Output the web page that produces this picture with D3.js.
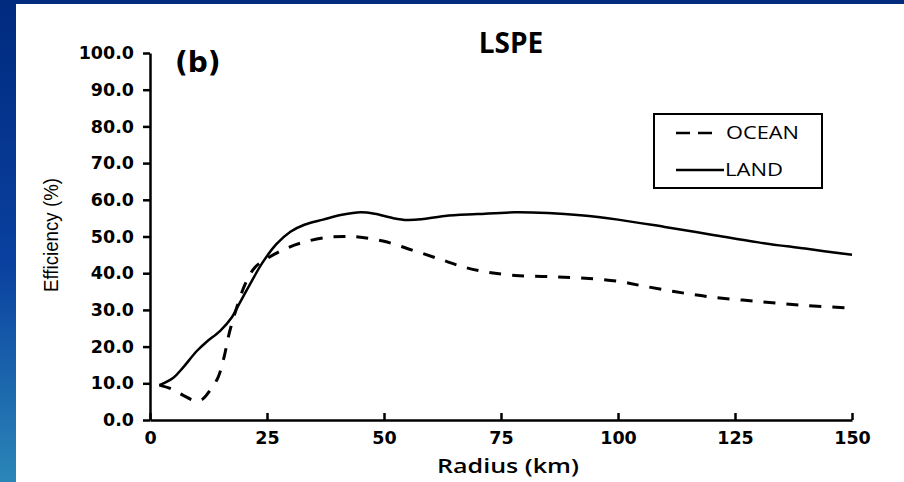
<!DOCTYPE html>
<html>
<head>
<meta charset="utf-8">
<script src="https://cdn.jsdelivr.net/npm/d3@7"></script>
<style>
	body { margin: 0; overflow: hidden; }
	svg { display: block; }
</style>
</head>
<body>
<svg id="chart" width="904" height="482"></svg>
<script>
// values
let landRadius = [2, 5, 7, 10, 12, 15, 17.5, 19, 21.5, 24, 27, 30, 33, 37, 41, 45, 48, 52, 55, 58, 63, 70, 78, 85, 92, 100, 110, 120, 130, 140, 150];
let landEff = [9.5, 11.5, 14.2, 18.8, 21.2, 24.3, 28, 31.5, 37.3, 42.8, 47.9, 51.3, 53.2, 54.6, 55.9, 56.6, 56.2, 55, 54.5, 54.7, 55.6, 56.1, 56.6, 56.4, 55.8, 54.6, 52.6, 50.5, 48.4, 46.7, 45];

let oceanRadius = [2, 4.5, 7, 9.5, 11, 12.5, 14.5, 15.8, 17, 18.5, 20.5, 22.5, 25, 29, 33, 38, 42, 45, 50, 56, 62, 67, 72, 78, 85, 92, 100, 105, 112, 120, 130, 140, 150];
let oceanEff = [9.5, 8.5, 6.8, 5.3, 5.5, 7.5, 11.5, 17, 24, 30.5, 37.5, 41.7, 44, 46.7, 48.5, 49.8, 50, 49.8, 48.7, 46.3, 43.8, 41.7, 40.3, 39.4, 39.1, 38.7, 37.8, 36.6, 35, 33.5, 32.3, 31.2, 30.5];

let xTicks = [0, 25, 50, 75, 100, 125, 150];
let yTicks = [0, 10, 20, 30, 40, 50, 60, 70, 80, 90, 100];

let svg = d3.select('#chart');

// slide background
let grad = svg.append('defs').append('linearGradient')
	.attr('id', 'bg')
	.attr('x1', 0).attr('y1', 0).attr('x2', 0).attr('y2', 1);
grad.append('stop').attr('offset', 0).attr('stop-color', '#002a7e');
grad.append('stop').attr('offset', 0.55).attr('stop-color', '#0a41a0');
grad.append('stop').attr('offset', 1).attr('stop-color', '#2b86b8');

svg.append('rect').attr('width', 904).attr('height', 482).attr('fill', 'url(#bg)');
svg.append('rect').attr('x', 16).attr('y', 4).attr('width', 888).attr('height', 478).attr('fill', '#fff');

let x = d3.scaleLinear().domain([0, 150]).range([150, 852]);
let y = d3.scaleLinear().domain([0, 100]).range([420, 53]);

let tickFont = 'DejaVu Sans, Verdana, sans-serif';

let yAxis = svg.append('g')
	.attr('transform', 'translate(' + x(0) + ',0)')
	.call(d3.axisLeft(y).tickValues(yTicks).tickSize(7).tickSizeOuter(0).tickPadding(9).tickFormat(d3.format('.1f')));

let xAxis = svg.append('g')
	.attr('transform', 'translate(0,' + y(0) + ')')
	.call(d3.axisBottom(x).tickValues(xTicks).tickSize(-7).tickSizeOuter(0).tickPadding(15).tickFormat(d3.format('d')));

[yAxis, xAxis].forEach(function(g) {
	g.select('.domain').attr('stroke', '#000').attr('stroke-width', 2.5);
	g.selectAll('.tick line').attr('stroke', '#000').attr('stroke-width', 2.5);
	g.selectAll('.tick text')
		.attr('fill', '#000')
		.style('font-family', tickFont)
		.style('font-weight', 'bold')
		.style('font-size', '17.5px');
});
xAxis.selectAll('.tick text').attr('dy', '0.5em');

// curves
let line = d3.line()
	.x(d => x(d[0]))
	.y(d => y(d[1]))
	.curve(d3.curveCatmullRom.alpha(0.5));

svg.append('path')
	.datum(d3.zip(landRadius, landEff))
	.attr('d', line)
	.attr('fill', 'none')
	.attr('stroke', '#000')
	.attr('stroke-width', 2.5);

svg.append('path')
	.datum(d3.zip(oceanRadius, oceanEff))
	.attr('d', line)
	.attr('fill', 'none')
	.attr('stroke', '#000')
	.attr('stroke-width', 3)
	.attr('stroke-dasharray', '12,11');

// titles
svg.append('text')
	.attr('x', 511).attr('y', 53)
	.attr('text-anchor', 'middle')
	.style('font-family', 'Open Sans, sans-serif')
	.style('font-weight', 'bold')
	.style('font-size', '28px')
	.text('LSPE');

svg.append('text')
	.attr('x', 175).attr('y', 72)
	.style('font-family', tickFont)
	.style('font-weight', 'bold')
	.style('font-size', '28px')
	.text('(b)');

svg.append('text')
	.attr('x', 508).attr('y', 473)
	.attr('text-anchor', 'middle')
	.attr('textLength', 142)
	.attr('lengthAdjust', 'spacingAndGlyphs')
	.style('font-family', 'Open Sans, sans-serif')
	.style('font-weight', 600)
	.style('font-size', '20px')
	.text('Radius (km)');

svg.append('text')
	.attr('transform', 'translate(58,235) rotate(-90)')
	.attr('text-anchor', 'middle')
	.attr('textLength', 114)
	.attr('lengthAdjust', 'spacingAndGlyphs')
	.style('font-family', 'Liberation Sans Narrow, Arial Narrow, sans-serif')
	.style('font-size', '20px')
	.text('Efficiency (%)');

// legend
let legend = svg.append('g');
legend.append('rect')
	.attr('x', 654).attr('y', 114)
	.attr('width', 168).attr('height', 74)
	.attr('fill', '#fff')
	.attr('stroke', '#000')
	.attr('stroke-width', 2);

let legendItems = [['OCEAN', '14,8', 133], ['LAND', null, 170]];
legendItems.forEach(function(item) {
	legend.append('line')
		.attr('x1', 676).attr('x2', item[1] ? 716 : 724)
		.attr('y1', item[2]).attr('y2', item[2])
		.attr('stroke', '#000')
		.attr('stroke-width', 2.5)
		.attr('stroke-dasharray', item[1]);
	legend.append('text')
		.attr('x', item[1] ? 726 : 725)
		.attr('y', item[2] + 6)
		.attr('textLength', item[0] == 'OCEAN' ? 73 : 58)
		.attr('lengthAdjust', 'spacingAndGlyphs')
		.style('font-family', 'Open Sans, sans-serif')
		.style('font-size', '18px')
		.text(item[0]);
});
</script>
</body>
</html>
